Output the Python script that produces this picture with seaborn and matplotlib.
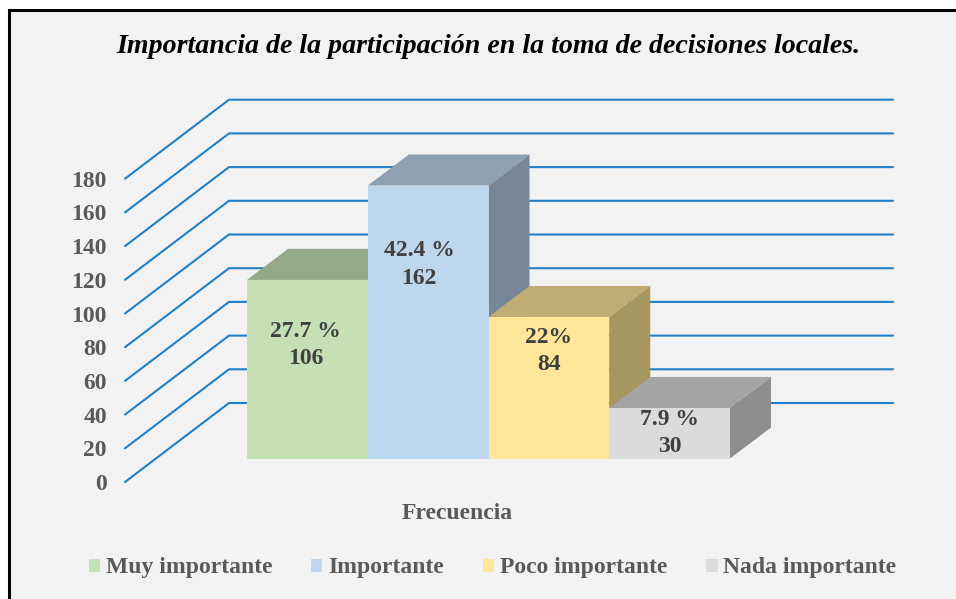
#!/usr/bin/env python3
import matplotlib
matplotlib.use("Agg")
import matplotlib.pyplot as plt
import pandas as pd
import seaborn as sns
from matplotlib.patches import Polygon, Rectangle

# ------------------------------------------------------------------------------
# Data
# ------------------------------------------------------------------------------
TITLE = "Importancia de la participación en la toma de decisiones locales."
GROUP_LABEL = "Frecuencia"
CATEGORIES = ["Muy importante", "Importante", "Poco importante", "Nada importante"]
VALUES = [106, 162, 84, 30]
PERCENTS = ["27.7 %", "42.4 %", "22%", "7.9 %"]
Y_TICKS = [0, 20, 40, 60, 80, 100, 120, 140, 160, 180]

# ------------------------------------------------------------------------------
# Plot parameters (pixels of the 956x599 figure)
# ------------------------------------------------------------------------------
W, H = 956, 599
PX_PER_UNIT = 1.685
BAR_LEFT, BAR_RIGHT, BAR_BASE = 247, 730, 458.5
WALL_LEFT, WALL_BACK, WALL_RIGHT, WALL_BASE = 125, 229, 893, 482
WALL_DEPTH = 79
BAR_DX, BAR_DY = 41, 31
LABEL_SHIFT = [(-2, -65), (-9, -79), (0, -34), (0, -25)]

FRONT_COLORS = ["#C5E0B4", "#BDD7EE", "#FFE699", "#DBDBDB"]
TOP_COLORS = ["#94A987", "#8EA1B3", "#BFAD73", "#A4A4A4"]
SIDE_COLORS = ["#7F9175", "#778797", "#A6965F", "#8E8E8E"]
LINE_COLOR = "#2080C8"
TEXT_COLOR = "#595959"
LABEL_COLOR = "#404040"
SERIF = "Liberation Serif"


def px_axes(fig, left, right, top, bottom):
  return fig.add_axes([left / W, 1 - bottom / H, (right - left) / W,
                       (bottom - top) / H])


def draw_wall(fig):
  top = WALL_BASE - max(Y_TICKS) * PX_PER_UNIT
  ax = px_axes(fig, WALL_LEFT, WALL_RIGHT, top, WALL_BASE)
  ax.patch.set_visible(False)
  ax.set_xlim(WALL_LEFT, WALL_RIGHT)
  ax.set_ylim(0, max(Y_TICKS))
  rise = WALL_DEPTH / PX_PER_UNIT
  for v in Y_TICKS:
    ax.plot([WALL_LEFT, WALL_BACK, WALL_RIGHT], [v, v + rise, v + rise],
            color=LINE_COLOR, lw=1.5, clip_on=False, solid_joinstyle="miter")
  sns.despine(ax=ax, left=True, bottom=True)
  ax.set_xticks([])
  ax.set_yticks(Y_TICKS)
  ax.tick_params(axis="y", length=0, pad=13, labelsize=17, labelcolor=TEXT_COLOR)
  for label in ax.get_yticklabels():
    label.set_fontweight("bold")
  ax.set_ylabel("")
  return ax


def draw_bars(fig):
  top = BAR_BASE - max(Y_TICKS) * PX_PER_UNIT
  ax = px_axes(fig, BAR_LEFT, BAR_RIGHT, top, BAR_BASE)
  ax.patch.set_visible(False)
  df = pd.DataFrame({
      "group": [GROUP_LABEL] * len(VALUES),
      "category": CATEGORIES,
      "value": VALUES,
  })
  sns.barplot(data=df, x="group", y="value", hue="category",
              hue_order=CATEGORIES, palette=FRONT_COLORS, width=1, gap=0,
              saturation=1, linewidth=0, ax=ax)
  ax.set_xlim(-0.5, 0.5)
  ax.set_ylim(0, max(Y_TICKS))
  sns.despine(ax=ax, left=True, bottom=True)
  ax.set_yticks([])
  ax.set_ylabel("")
  ax.set_xticks([])
  ax.set_xlabel(GROUP_LABEL, x=(457 - BAR_LEFT) / (BAR_RIGHT - BAR_LEFT),
                labelpad=32, fontsize=17, fontweight="bold", color=TEXT_COLOR)

  # Depth faces follow the bars that seaborn laid out, left to right
  dx = BAR_DX / (BAR_RIGHT - BAR_LEFT)
  dy = BAR_DY / PX_PER_UNIT
  for i, container in enumerate(ax.containers):
    bar = container[0]
    x0, x1, h = bar.get_x(), bar.get_x() + bar.get_width(), bar.get_height()
    bar.set_zorder(3 * i + 3)
    bar.set_clip_on(False)
    side = Polygon([(x1, 0), (x1 + dx, dy), (x1 + dx, h + dy), (x1, h)],
                   facecolor=SIDE_COLORS[i], linewidth=0, zorder=3 * i + 1,
                   clip_on=False)
    roof = Polygon([(x0, h), (x1, h), (x1 + dx, h + dy), (x0 + dx, h + dy)],
                   facecolor=TOP_COLORS[i], linewidth=0, zorder=3 * i + 2,
                   clip_on=False)
    ax.add_patch(side)
    ax.add_patch(roof)
    ax.annotate("%s\n%d" % (PERCENTS[i], VALUES[i]),
                xy=((x0 + x1) / 2, h), xytext=LABEL_SHIFT[i],
                textcoords="offset pixels", ha="center", va="center",
                fontsize=17, fontweight="bold", color=LABEL_COLOR,
                linespacing=1.4, zorder=20)

  handles, labels = ax.get_legend_handles_labels()
  ax.get_legend().remove()
  for handle in handles:
    handle.set_edgecolor("none")
  fig.legend(handles, labels, loc="center", bbox_to_anchor=(492.5 / W, 1 - 568 / H),
             ncol=4, frameon=False, handlelength=0.48, handleheight=0.48,
             handletextpad=0.24, columnspacing=1.65, borderpad=0,
             prop={"family": SERIF, "weight": "bold", "size": 17},
             labelcolor=TEXT_COLOR)
  return ax


def main():
  sns.set_theme(style="white")
  plt.rcParams["font.family"] = [SERIF, "DejaVu Serif"]
  fig = plt.figure(figsize=(W / 100, H / 100), dpi=100, facecolor="white")

  # Chart area with the black border running off the right and bottom
  fig.add_artist(Rectangle((8.5 / W, -0.05), 1.0, 1 - 9.5 / H + 0.05,
                           transform=fig.transFigure, facecolor="#F2F2F2",
                           edgecolor="black", linewidth=2.2, zorder=-1))
  fig.text(488 / W, 1 - 46.5 / H, TITLE, ha="center", va="center", fontsize=20.2,
           fontweight="bold", fontstyle="italic", color="black")

  draw_wall(fig)
  draw_bars(fig)
  fig.savefig("out.png", dpi=100, facecolor=fig.get_facecolor())


if __name__ == "__main__":
  main()
